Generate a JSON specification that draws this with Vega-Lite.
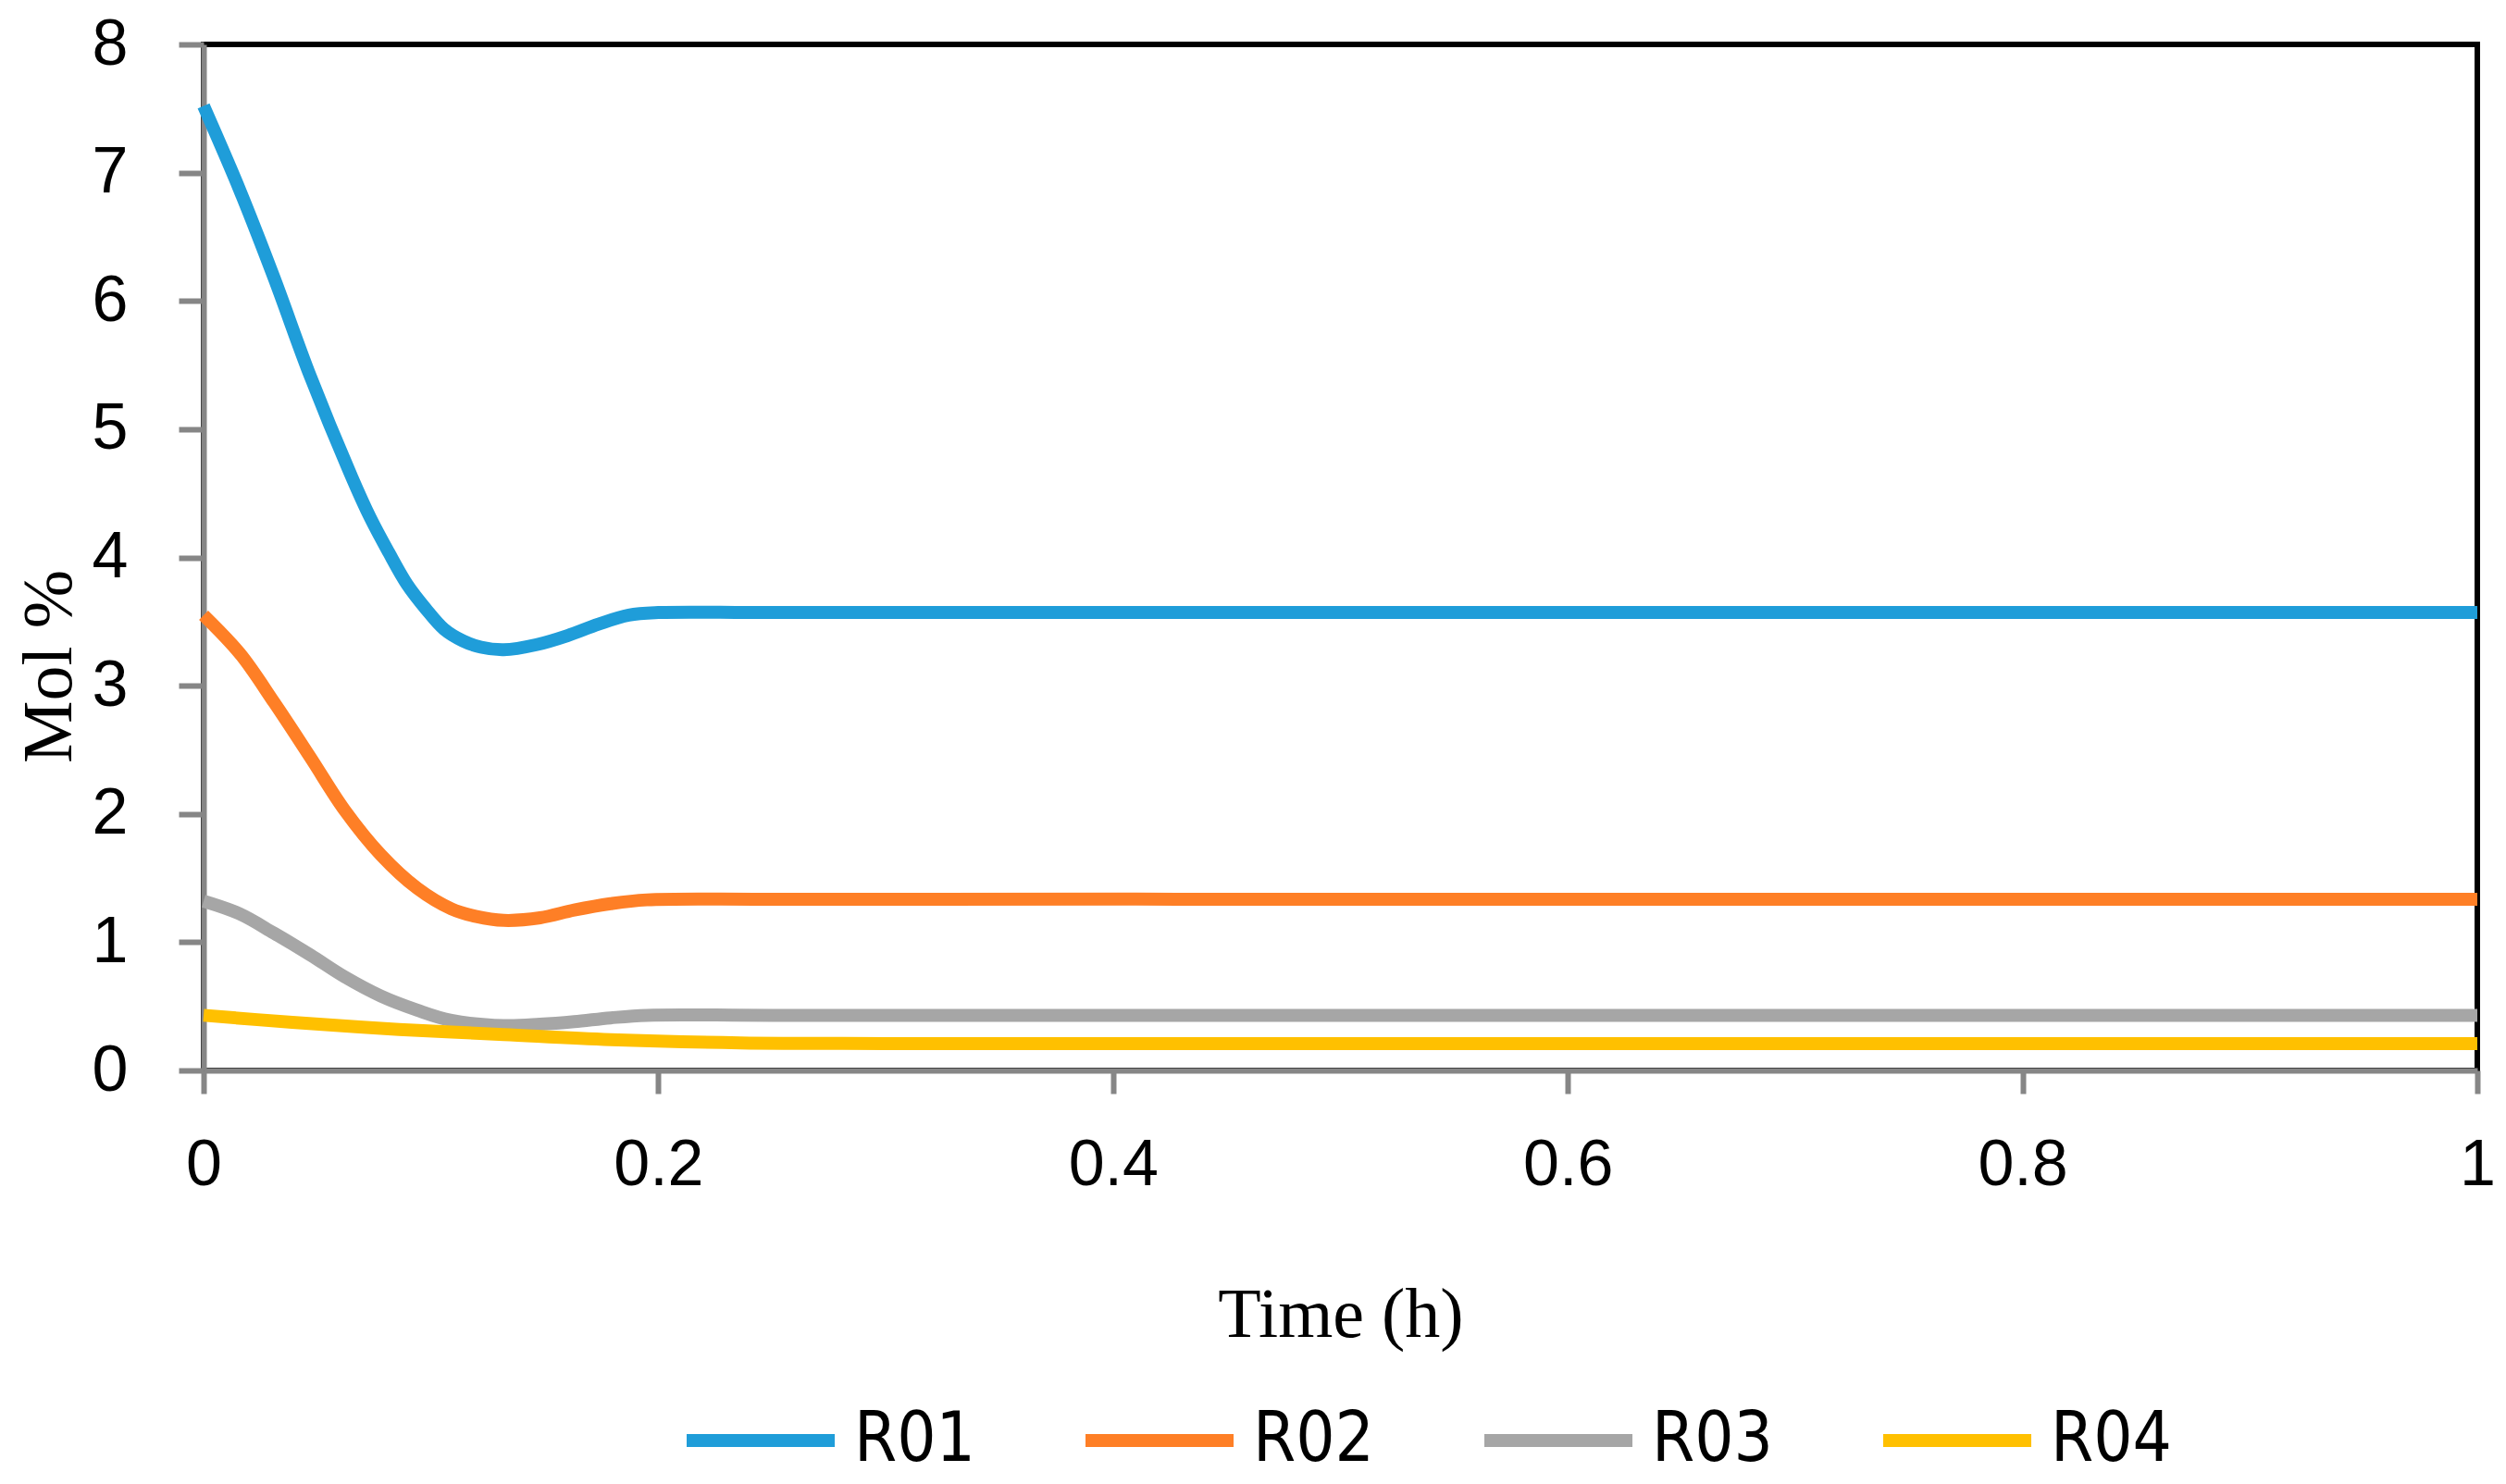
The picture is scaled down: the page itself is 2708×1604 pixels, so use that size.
{
  "$schema": "https://vega.github.io/schema/vega-lite/v6.json",
  "description": "Mol % of R01-R04 over time",
  "width": 2457,
  "height": 1109,
  "autosize": {"type": "none"},
  "padding": {"left": 220, "top": 48, "right": 31, "bottom": 447},
  "background": "white",
  "data": {
    "values": [
      {"t": 0, "mol": 7.52, "series": "R01"},
      {"t": 0.016, "mol": 6.86, "series": "R01"},
      {"t": 0.031, "mol": 6.18, "series": "R01"},
      {"t": 0.047, "mol": 5.41, "series": "R01"},
      {"t": 0.0651, "mol": 4.63, "series": "R01"},
      {"t": 0.0733, "mol": 4.31, "series": "R01"},
      {"t": 0.0814, "mol": 4.04, "series": "R01"},
      {"t": 0.0895, "mol": 3.79, "series": "R01"},
      {"t": 0.0977, "mol": 3.6, "series": "R01"},
      {"t": 0.1058, "mol": 3.44, "series": "R01"},
      {"t": 0.114, "mol": 3.35, "series": "R01"},
      {"t": 0.122, "mol": 3.3, "series": "R01"},
      {"t": 0.132, "mol": 3.28, "series": "R01"},
      {"t": 0.1465, "mol": 3.32, "series": "R01"},
      {"t": 0.16, "mol": 3.39, "series": "R01"},
      {"t": 0.1737, "mol": 3.48, "series": "R01"},
      {"t": 0.187, "mol": 3.55, "series": "R01"},
      {"t": 0.2, "mol": 3.57, "series": "R01"},
      {"t": 0.25, "mol": 3.57, "series": "R01"},
      {"t": 0.5, "mol": 3.57, "series": "R01"},
      {"t": 0.75, "mol": 3.57, "series": "R01"},
      {"t": 1, "mol": 3.57, "series": "R01"},
      {"t": 0, "mol": 3.55, "series": "R02"},
      {"t": 0.016, "mol": 3.25, "series": "R02"},
      {"t": 0.031, "mol": 2.87, "series": "R02"},
      {"t": 0.047, "mol": 2.44, "series": "R02"},
      {"t": 0.062, "mol": 2.03, "series": "R02"},
      {"t": 0.078, "mol": 1.68, "series": "R02"},
      {"t": 0.094, "mol": 1.42, "series": "R02"},
      {"t": 0.109, "mol": 1.26, "series": "R02"},
      {"t": 0.12, "mol": 1.2, "series": "R02"},
      {"t": 0.132, "mol": 1.17, "series": "R02"},
      {"t": 0.148, "mol": 1.19, "series": "R02"},
      {"t": 0.163, "mol": 1.25, "series": "R02"},
      {"t": 0.179, "mol": 1.3, "series": "R02"},
      {"t": 0.195, "mol": 1.33, "series": "R02"},
      {"t": 0.25, "mol": 1.335, "series": "R02"},
      {"t": 0.5, "mol": 1.335, "series": "R02"},
      {"t": 0.75, "mol": 1.335, "series": "R02"},
      {"t": 1, "mol": 1.335, "series": "R02"},
      {"t": 0, "mol": 1.32, "series": "R03"},
      {"t": 0.016, "mol": 1.22, "series": "R03"},
      {"t": 0.031, "mol": 1.07, "series": "R03"},
      {"t": 0.047, "mol": 0.9, "series": "R03"},
      {"t": 0.062, "mol": 0.73, "series": "R03"},
      {"t": 0.078, "mol": 0.58, "series": "R03"},
      {"t": 0.094, "mol": 0.47, "series": "R03"},
      {"t": 0.109, "mol": 0.39, "series": "R03"},
      {"t": 0.132, "mol": 0.35, "series": "R03"},
      {"t": 0.148, "mol": 0.36, "series": "R03"},
      {"t": 0.163, "mol": 0.38, "series": "R03"},
      {"t": 0.179, "mol": 0.41, "series": "R03"},
      {"t": 0.195, "mol": 0.43, "series": "R03"},
      {"t": 0.25, "mol": 0.43, "series": "R03"},
      {"t": 0.5, "mol": 0.43, "series": "R03"},
      {"t": 0.75, "mol": 0.43, "series": "R03"},
      {"t": 1, "mol": 0.43, "series": "R03"},
      {"t": 0, "mol": 0.43, "series": "R04"},
      {"t": 0.039, "mol": 0.375, "series": "R04"},
      {"t": 0.086, "mol": 0.32, "series": "R04"},
      {"t": 0.132, "mol": 0.28, "series": "R04"},
      {"t": 0.179, "mol": 0.24, "series": "R04"},
      {"t": 0.236, "mol": 0.215, "series": "R04"},
      {"t": 0.3, "mol": 0.21, "series": "R04"},
      {"t": 0.5, "mol": 0.21, "series": "R04"},
      {"t": 0.75, "mol": 0.21, "series": "R04"},
      {"t": 1, "mol": 0.21, "series": "R04"}
    ]
  },
  "mark": {"type": "line", "strokeWidth": 14, "interpolate": "catmull-rom"},
  "encoding": {
    "x": {
      "field": "t",
      "type": "quantitative",
      "scale": {"domain": [0, 1], "nice": false},
      "axis": {
        "title": "Time (h)",
        "values": [0, 0.2, 0.4, 0.6, 0.8, 1],
        "format": "~g",
        "grid": false,
        "tickSize": 25,
        "labelPadding": 43,
        "labelFlush": false,
        "titleY": 287,
        "titleBaseline": "alphabetic"
      }
    },
    "y": {
      "field": "mol",
      "type": "quantitative",
      "scale": {"domain": [0, 8], "nice": false},
      "axis": {
        "title": "Mol %",
        "values": [0, 1, 2, 3, 4, 5, 6, 7, 8],
        "grid": false,
        "tickSize": 27,
        "labelPadding": 55,
        "labelFlush": false,
        "titleX": -144,
        "titleY": 672,
        "titleAngle": -90,
        "titleAlign": "center",
        "titleBaseline": "alphabetic"
      }
    },
    "color": {
      "field": "series",
      "type": "nominal",
      "scale": {
        "domain": ["R01", "R02", "R03", "R04"],
        "range": ["#1f9dd9", "#fe7f26", "#a6a6a6", "#ffc000"]
      },
      "legend": {
        "title": null,
        "orient": "none",
        "direction": "horizontal",
        "legendX": 515,
        "legendY": 1422,
        "symbolType": "stroke",
        "symbolSize": 25600,
        "symbolStrokeWidth": 14,
        "labelOffset": 14,
        "columnPadding": 91,
        "labelFont": "Liberation Sans Narrow, DejaVu Sans Condensed, Liberation Sans",
        "labelFontSize": 74,
        "labelColor": "black"
      }
    }
  },
  "config": {
    "view": {"stroke": "black", "strokeWidth": 6},
    "axis": {
      "domainColor": "#868686",
      "domainWidth": 6,
      "tickColor": "#868686",
      "tickWidth": 6,
      "labelFont": "Liberation Sans",
      "labelFontSize": 70,
      "labelColor": "black",
      "titleFont": "Liberation Serif",
      "titleFontSize": 76,
      "titleFontWeight": "normal",
      "titleColor": "black"
    }
  }
}
